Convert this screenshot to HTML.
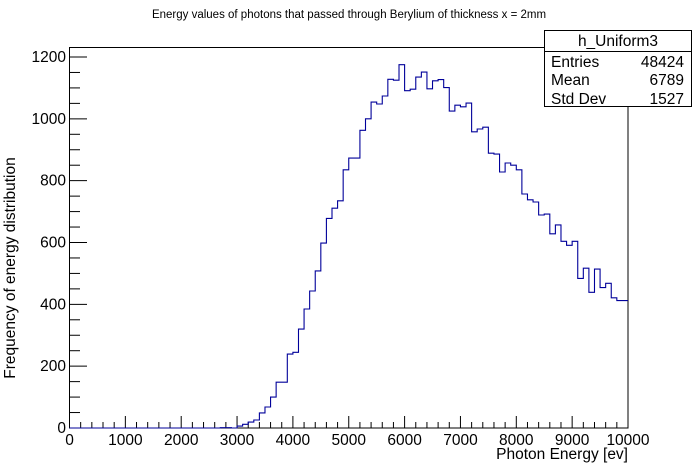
<!DOCTYPE html>
<html><head><meta charset="utf-8"><style>body{margin:0;background:#fff}svg{display:block}text{font-family:"Liberation Sans",sans-serif}</style></head>
<body>
<svg id="s" width="698" height="476" xmlns="http://www.w3.org/2000/svg">
<rect width="698" height="476" fill="#fff"/>
<text x="349" y="18" font-size="11.5" text-anchor="middle">Energy values of photons that passed through Berylium of thickness x = 2mm</text>
<rect x="69.5" y="47.5" width="558.5" height="380.5" fill="none" stroke="#000" stroke-width="1"/>
<g id="ticks" stroke="#000" stroke-width="1"></g>
<path id="h" fill="none" stroke="#00009a" stroke-width="1.1"/>
<g font-size="15.5" id="labels"></g>
<text x="628" y="459" font-size="15.5" text-anchor="end">Photon Energy [ev]</text>
<text transform="translate(15,268) rotate(-90)" font-size="15.5" text-anchor="middle">Frequency of energy distribution</text>
<rect x="544.5" y="30.5" width="147" height="76" fill="#fff" stroke="#000"/>
<line x1="544.5" y1="51.5" x2="691.5" y2="51.5" stroke="#000"/>
<text x="618" y="46" font-size="15.5" text-anchor="middle">h_Uniform3</text>
<g font-size="15.5"><text x="551" y="67">Entries</text><text x="684" y="67" text-anchor="end">48424</text>
<text x="551" y="85">Mean</text><text x="684" y="85" text-anchor="end">6789</text>
<text x="551" y="104">Std Dev</text><text x="684" y="104" text-anchor="end">1527</text></g>
</svg>
<script>
var v=[];for(var i=0;i<100;i++)v[i]=0;v[27]=1;v[28]=1;
var a=[6,12,19,26,49,68,100,148,148,239,245,320,385,443,508,598,678,711,735,835,873,873,963,1000,1054,1048,1074,1128,1125,1175,1091,1096,1135,1151,1097,1123,1127,1101,1025,1044,1039,1051,958,967,973,889,886,828,857,850,835,757,738,731,689,692,628,657,604,591,604,484,517,439,514,454,468,421,412,412];
for(var i=0;i<a.length;i++)v[30+i]=a[i];
var X0=69.5,W=558.5/100,Y0=428,S=371/1200;
var d="M"+X0+" "+Y0;
for(var i=0;i<100;i++){var y=(Y0-v[i]*S).toFixed(1);d+=" V"+y+" H"+(X0+(i+1)*W).toFixed(2);}
document.getElementById('h').setAttribute('d',d);
var t="",l="";
for(var e=0;e<=10000;e+=200){var x=X0+e*558.5/10000;var maj=e%1000==0;t+='<line x1="'+x+'" y1="428" x2="'+x+'" y2="'+(maj?416:422)+'"/>';if(maj)l+='<text x="'+x+'" y="445" text-anchor="middle">'+e+'</text>';}
for(var c=0;c<=1200;c+=50){var y=Y0-c*S;if(y<48)continue;var maj=c%200==0;t+='<line x1="70" y1="'+y+'" x2="'+(maj?87:80)+'" y2="'+y+'"/>';if(maj)l+='<text x="66" y="'+(y+5)+'" text-anchor="end">'+c+'</text>';}
document.getElementById('ticks').innerHTML=t;document.getElementById('labels').innerHTML=l;
</script>
</body></html>
